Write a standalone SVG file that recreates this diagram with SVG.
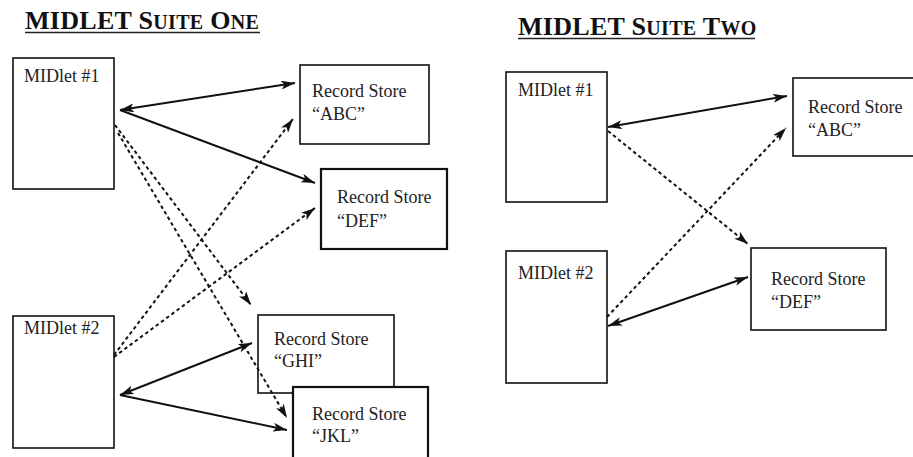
<svg xmlns="http://www.w3.org/2000/svg" width="913" height="457" viewBox="0 0 913 457">
<style>
.title{font-family:"Liberation Serif","Times New Roman",serif;font-weight:bold;fill:#111;letter-spacing:0.3px;}
.big{font-size:26px;}
.sc{font-size:20px;}
.lbl{font-family:"Liberation Serif","Times New Roman",serif;font-size:18px;fill:#222;}
.box{fill:#fff;stroke:#111;stroke-width:1.6;}
.box2{fill:#fff;stroke:#111;stroke-width:2.2;}
.solid{fill:none;stroke:#111;stroke-width:2;}
.dash{fill:none;stroke:#111;stroke-width:2;stroke-dasharray:3.5 3;}
.ul{stroke:#222;stroke-width:1.6;}
</style>
<defs>
<marker id="ah" viewBox="0 0 14 9" refX="14" refY="4.5" markerWidth="14" markerHeight="9" markerUnits="userSpaceOnUse" orient="auto-start-reverse">
<path d="M0,0 L14,4.5 L0,9 L3.5,4.5 z" fill="#111"/>
</marker>
</defs>
<rect width="913" height="457" fill="#fff"/>

<g id="title-one">
<text class="title" x="25" y="29"><tspan class="big">MIDLET S</tspan><tspan class="sc">UITE</tspan><tspan class="big"> O</tspan><tspan class="sc">NE</tspan></text>
<line class="ul" x1="25" y1="32.5" x2="260" y2="32.5"/>
</g>
<g id="title-two">
<text class="title" x="518" y="35"><tspan class="big">MIDLET S</tspan><tspan class="sc">UITE</tspan><tspan class="big"> T</tspan><tspan class="sc">WO</tspan></text>
<line class="ul" x1="518" y1="38.5" x2="755" y2="38.5"/>
</g>

<g id="s1-midlet1"><rect class="box" x="13" y="58" width="101" height="131"/><text class="lbl" x="24" y="82">MIDlet #1</text></g>
<g id="s1-abc"><rect class="box" x="300" y="65" width="129" height="79"/><text class="lbl" x="312" y="97">Record Store</text><text class="lbl" x="312" y="120">“ABC”</text></g>
<g id="s1-def"><rect class="box2" x="321" y="169" width="126" height="80"/><text class="lbl" x="337" y="203">Record Store</text><text class="lbl" x="337" y="227">“DEF”</text></g>
<g id="s1-midlet2"><rect class="box" x="13" y="316" width="101" height="132"/><text class="lbl" x="24" y="334">MIDlet #2</text></g>
<g id="s1-ghi"><rect class="box" x="258" y="315" width="136" height="78"/><text class="lbl" x="274" y="345">Record Store</text><text class="lbl" x="274" y="367">“GHI”</text></g>
<g id="s1-jkl"><rect class="box2" x="293" y="387" width="135" height="75"/><text class="lbl" x="312" y="420">Record Store</text><text class="lbl" x="312" y="442">“JKL”</text></g>

<g id="s2-midlet1"><rect class="box" x="506" y="72" width="101" height="130"/><text class="lbl" x="518" y="96">MIDlet #1</text></g>
<g id="s2-abc"><rect class="box" x="793" y="78" width="125" height="78"/><text class="lbl" x="808" y="113">Record Store</text><text class="lbl" x="808" y="136">“ABC”</text></g>
<g id="s2-midlet2"><rect class="box" x="506" y="251" width="101" height="132"/><text class="lbl" x="518" y="279">MIDlet #2</text></g>
<g id="s2-def"><rect class="box" x="751" y="248" width="135" height="82"/><text class="lbl" x="771" y="285">Record Store</text><text class="lbl" x="771" y="308">“DEF”</text></g>

<g id="connectors">
<path class="solid" d="M295,83 L120,110" marker-start="url(#ah)" marker-end="url(#ah)"/>
<path class="solid" d="M120,110 L315,183" marker-end="url(#ah)"/>
<path class="dash" d="M115,125 L251,305" marker-end="url(#ah)"/>
<path class="dash" d="M118,133 L287,418" marker-end="url(#ah)"/>
<path class="dash" d="M114,355 L293,119" marker-end="url(#ah)"/>
<path class="dash" d="M114,357 L315,208" marker-end="url(#ah)"/>
<path class="solid" d="M252,343 L120,395" marker-start="url(#ah)" marker-end="url(#ah)"/>
<path class="solid" d="M120,395 L287,430" marker-end="url(#ah)"/>
<path class="solid" d="M787,96 L608,127" marker-start="url(#ah)" marker-end="url(#ah)"/>
<path class="dash" d="M608,131 L748,244" marker-end="url(#ah)"/>
<path class="dash" d="M607,317 L786,128" marker-end="url(#ah)"/>
<path class="solid" d="M748,277 L608,326" marker-start="url(#ah)" marker-end="url(#ah)"/>
</g>
</svg>
